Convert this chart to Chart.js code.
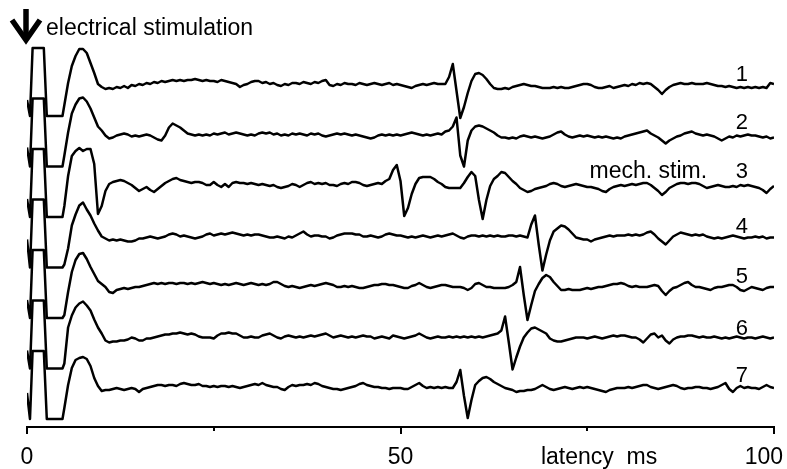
<!DOCTYPE html>
<html>
<head>
<meta charset="utf-8">
<script src="https://cdn.jsdelivr.net/npm/chart.js@4.4.1/dist/chart.umd.min.js"></script>
<style>
html,body{margin:0;padding:0;background:#fff;}
canvas{display:block;}
</style>
</head>
<body>
<canvas id="c" width="787" height="469"></canvas>
<script>
// ---- data (values in display units, relative to each trace's own baseline; positive = up) ----
// First six samples of each trace are the stimulus artefact, taken at artifactMs;
// the rest are regular samples every SAMPLE_MS starting at GRID_START_MS.
const artifactMs = [0, 0.4, 0.75, 2.25, 2.65, 4.75];
const GRID_START_MS = 5;
const SAMPLE_MS = 0.5;
const latencyTicks = [0, 50, 100]; // labelled ticks (ms)
const minorTicks = [25, 75];       // unlabelled ticks (ms)
const axisTitle = 'latency  ms';
const stimLabel = 'electrical stimulation';
const mechLabel = 'mech. stim.';
const traceNames = ['1', '2', '3', '4', '5', '6', '7'];

const trace1 = [
-15,-31,37,37,-31,-31,
-20,2,19,29,36,36,32,22,12,1,
-2,-4,-3,-4,-2,-3,-1,-3,0,-1,1,0,2,1,3,2,4,3,4,5,
4,5,4,5,5,6,5,4,5,4,4,3,5,4,3,2,1,-2,0,1,
3,4,4,2,3,1,2,0,-1,1,0,2,2,1,3,2,1,3,2,4,
5,0,-1,1,0,2,1,1,0,2,1,0,1,2,1,0,1,2,0,1,
0,-1,-2,-3,-1,0,1,0,1,2,1,1,1,8,21,-6,-33,-22,-8,4,
11,12,10,6,1,-3,-4,-4,-3,-4,-2,-1,0,1,0,-1,-1,-2,-3,-3,
-3,-2,-3,-2,-3,-3,-2,-1,0,1,1,0,-2,-3,-3,-2,-1,-3,-2,-1,
0,-1,1,0,2,1,2,1,-2,-5,-9,-5,-2,0,1,2,1,1,2,1,
1,1,2,1,0,-1,-1,-2,-1,-2,-3,-2,-3,-2,-3,-2,-3,-2,-3,2,
1];
const trace2 = [
-12,-31,37,37,-31,-31,
-20,3,22,31,37,38,34,27,18,9,
5,0,-3,-2,0,1,2,1,-1,0,-1,0,1,0,-2,-4,-5,0,8,12,
10,8,5,2,1,0,1,0,1,0,2,1,2,3,1,2,3,2,1,0,
1,0,2,3,2,3,1,2,0,1,0,2,1,2,1,0,2,1,2,0,
-1,0,1,2,1,2,1,0,1,0,-1,-2,-3,-2,0,1,0,1,0,1,
0,1,2,3,2,1,0,1,0,1,2,1,4,5,9,18,-20,-31,-5,5,
9,10,9,7,5,3,0,-2,-2,-3,-2,-3,-1,0,-1,-2,-1,-2,-3,-2,
-1,1,3,4,1,-1,-2,-1,0,-1,0,-1,-2,-1,-2,-1,-2,-3,-2,-3,
-1,0,1,2,3,4,5,2,0,-2,-5,-8,-5,-3,-1,0,2,3,4,2,
1,0,1,0,-1,-3,-5,-3,-1,-2,0,-1,0,1,0,0,-1,-2,-1,-3,
-2];
const trace3 = [
-13,-31,37,37,-31,-31,
-20,10,30,35,38,35,37,37,22,-28,
-20,-5,2,4,5,6,5,3,1,-2,-5,-3,-1,-4,-6,-3,0,3,5,7,
8,6,5,4,3,4,4,3,1,1,4,1,-1,2,-1,3,4,3,3,2,
3,2,1,2,1,0,1,-1,-2,-1,0,2,1,-1,1,3,4,2,3,2,
3,1,1,0,2,3,2,4,4,3,1,0,1,2,3,2,5,7,16,21,
5,-30,-22,-8,2,8,9,9,9,7,4,2,-1,-2,-2,-2,-2,3,9,14,
10,-14,-33,-14,0,7,10,14,13,9,5,2,-2,-4,-6,-5,-3,-2,-1,0,
2,3,2,0,-1,0,1,2,1,0,-1,-1,-2,-3,-5,-6,-3,-1,0,1,
0,1,2,1,2,3,3,1,-2,-5,-9,-6,-2,0,2,3,3,2,3,3,
2,0,-2,-1,0,1,0,-1,-1,0,-1,1,0,1,0,-1,-2,-4,-7,-3,
0];
const trace4 = [
-3,-31,37,37,-31,-31,
-28,-12,11,22,31,34,27,21,13,6,
0,-2,-4,-3,-4,-3,-4,-5,-5,-4,-2,-2,-1,0,-1,-2,-1,0,2,3,
2,0,1,0,-1,-2,-1,0,2,3,1,2,3,2,3,4,3,2,1,2,
1,2,2,1,0,-1,-1,0,-1,-2,0,-1,1,3,5,2,0,1,1,0,
0,-2,-1,1,2,3,3,3,2,2,0,0,1,0,-1,0,2,3,2,1,
1,0,-1,0,-1,0,1,0,-1,0,1,0,1,2,3,1,-1,-2,0,1,
1,0,1,0,1,0,1,0,0,1,1,0,1,0,-1,12,21,-8,-34,-18,
-4,5,8,11,10,7,3,-1,-2,-3,-3,-5,-3,-2,-1,0,1,0,1,1,
1,2,1,2,1,2,4,5,2,-2,-5,-8,-4,0,2,4,3,2,1,2,
1,2,0,-1,-2,-1,-2,-1,0,1,0,-1,-2,-1,-1,0,-1,0,-2,-1,
-1];
const trace5 = [
-13,-31,37,37,-31,-31,
-28,-5,15,27,33,34,28,20,13,6,
3,0,-5,-6,-3,-2,-1,-2,-1,0,0,1,2,3,4,3,4,3,4,4,
3,4,4,3,4,3,4,5,4,3,4,3,2,3,2,3,4,3,2,3,
4,3,2,3,2,3,5,5,3,1,0,1,0,-1,0,1,2,1,2,3,
4,3,2,0,0,1,0,1,0,-1,-1,0,1,2,2,3,3,2,2,1,
0,-1,-1,1,2,4,2,0,-1,0,1,2,2,1,0,0,0,-1,-3,-1,
3,4,2,0,0,-1,-1,-1,-1,0,2,5,20,-8,-33,-18,-4,3,9,12,
10,5,1,-3,-3,-2,-3,-3,-3,-2,-1,-2,-1,0,0,1,2,3,3,4,
3,1,0,1,0,0,0,1,2,1,-4,-8,-4,-1,0,2,4,5,2,0,
0,-1,-2,-3,-1,0,0,1,2,2,0,-3,-4,-2,0,-1,-2,-3,-1,0,
0];
const trace6 = [
-13,-31,37,37,-31,-31,
-26,10,22,30,34,36,32,27,18,10,
4,-3,-5,-4,-4,-3,-3,-2,0,-1,-3,-3,-1,-1,0,1,2,3,3,4,
4,5,4,3,4,3,1,0,0,0,-1,2,4,4,5,4,4,2,0,0,
1,0,0,2,3,4,2,0,-1,1,2,1,0,1,0,1,2,1,2,3,
4,2,0,1,2,1,0,1,0,1,2,1,1,-1,0,1,0,-1,2,1,
0,-1,0,1,2,4,2,0,-1,0,1,0,0,1,0,1,0,1,0,1,
0,1,0,1,2,3,4,7,21,-5,-32,-20,-9,0,5,9,10,8,6,4,
-1,-3,-4,-4,-3,-2,-1,0,0,0,-1,0,1,0,-1,0,1,2,1,2,
2,1,0,0,-2,-5,-1,3,4,0,2,-3,-6,-2,0,1,1,2,2,1,
0,1,0,0,1,0,-1,0,-1,0,1,0,-1,0,0,-1,0,1,0,-1,
0];
const trace7 = [
-5,-31,37,37,-31,-31,
-20,3,20,28,30,31,29,22,10,2,
-3,-2,-2,-1,0,-1,-2,-1,0,-1,-4,-1,0,1,2,3,3,2,3,3,
2,4,5,4,3,3,4,2,2,1,2,1,2,2,1,2,1,0,1,2,
3,4,3,5,3,2,1,1,-1,-2,1,3,2,3,3,4,3,5,4,2,
1,0,-1,-1,-2,-1,0,1,2,4,5,3,2,1,1,0,0,-1,0,0,
0,-1,-1,1,3,5,2,0,1,0,1,0,1,0,0,6,18,-8,-30,-12,
3,7,10,11,9,6,4,2,0,-1,-2,-4,-3,-3,-2,-2,-1,1,3,1,
-1,-2,-1,0,1,0,-1,0,1,0,1,0,-1,-2,-3,-4,-2,-1,0,0,
0,1,0,1,2,3,3,1,0,-1,0,1,2,3,2,0,-1,0,0,1,
1,0,0,-1,0,1,3,5,-1,-4,0,2,0,1,0,0,-1,1,3,1,
0];

const traces = [trace1, trace2, trace3, trace4, trace5, trace6, trace7];

// ---- layout / style (not data) ----
const TRACE_SPACING = 50.5;                 // vertical distance between stacked traces (display units)
const LABEL_RAISE = [4, 7, 8, 4, 4, 3, 6];  // how far each trace number sits above its baseline
const FONT = '"Liberation Sans", Arial, Helvetica, sans-serif';

function sampleTime(i) {
  return i < artifactMs.length ? artifactMs[i] : GRID_START_MS + (i - artifactMs.length) * SAMPLE_MS;
}

const datasets = traces.map((vals, k) => ({
  label: traceNames[k],
  data: vals.map((v, i) => ({ x: sampleTime(i), y: v - k * TRACE_SPACING })),
  borderColor: '#000',
  borderWidth: 2.5,
  borderJoinStyle: 'round',
  pointRadius: 0,
  fill: false,
  tension: 0
}));

const annotate = {
  id: 'annotate',
  afterDraw(chart) {
    const { ctx, chartArea } = chart;
    const x = chart.scales.x, y = chart.scales.y;
    const axisY = chartArea.bottom;
    ctx.save();
    ctx.fillStyle = '#000';
    ctx.strokeStyle = '#000';

    // minor ticks
    ctx.lineWidth = 2;
    minorTicks.forEach(v => {
      const px = Math.round(x.getPixelForValue(v));
      ctx.beginPath(); ctx.moveTo(px, axisY); ctx.lineTo(px, axisY + 4); ctx.stroke();
    });

    // tick labels + axis title
    ctx.font = '23px ' + FONT;
    ctx.textBaseline = 'alphabetic';
    ctx.textAlign = 'center';
    latencyTicks.forEach(v => {
      const s = String(v);
      const w = ctx.measureText(s).width;
      let px = x.getPixelForValue(v);
      px = Math.min(px, chart.width - 4 - w / 2);
      ctx.fillText(s, px, axisY + 37);
    });
    ctx.textAlign = 'left';
    ctx.fillText(axisTitle, x.getPixelForValue(68.8), axisY + 37);

    // stimulus arrow at t = 0
    const ax = x.getPixelForValue(0) - 1;
    ctx.lineWidth = 5.5;
    ctx.lineJoin = 'miter';
    ctx.lineCap = 'butt';
    ctx.beginPath(); ctx.moveTo(ax, 9); ctx.lineTo(ax, 38); ctx.stroke();
    ctx.beginPath(); ctx.moveTo(ax - 14, 20); ctx.lineTo(ax, 40); ctx.lineTo(ax + 14, 20); ctx.stroke();
    ctx.font = '23px ' + FONT;
    ctx.fillText(stimLabel, ax + 20, 35);

    // trace numbers and the mechanical-stimulation note
    traceNames.forEach((name, k) => {
      const py = y.getPixelForValue(-k * TRACE_SPACING) - LABEL_RAISE[k];
      ctx.font = '22px ' + FONT;
      ctx.textAlign = 'center';
      ctx.fillText(name, x.getPixelForValue(95.7), py);
      if (k === 2) {
        ctx.textAlign = 'left';
        ctx.font = '23px ' + FONT;
        ctx.fillText(mechLabel, x.getPixelForValue(75.3), py);
      }
    });
    ctx.restore();
  }
};

new Chart(document.getElementById('c'), {
  type: 'line',
  data: { datasets },
  options: {
    responsive: false,
    devicePixelRatio: 1,
    animation: false,
    events: [],
    layout: { padding: { left: 27, right: 13, top: 40, bottom: 35 } },
    plugins: { legend: { display: false }, tooltip: { enabled: false }, title: { display: false } },
    scales: {
      x: {
        type: 'linear',
        min: 0, max: 100,
        afterBuildTicks: s => { s.ticks = latencyTicks.map(v => ({ value: v })); },
        ticks: { display: false },
        grid: { display: true, drawOnChartArea: false, drawTicks: true, tickLength: 7, color: '#000', lineWidth: 2 },
        border: { display: true, color: '#000', width: 2 }
      },
      y: {
        display: false,
        min: -342, max: 45
      }
    }
  },
  plugins: [annotate]
});
</script>
</body>
</html>
